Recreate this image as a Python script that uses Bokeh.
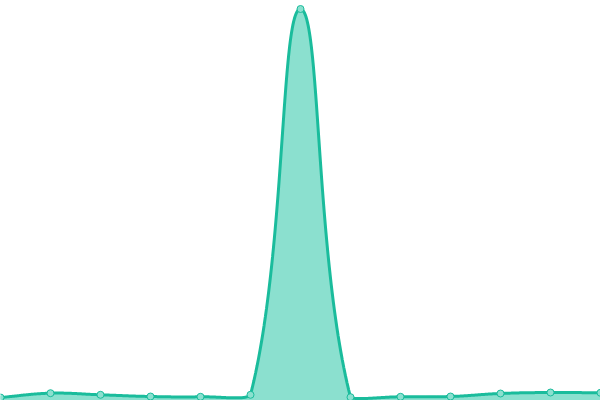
import numpy as np
from bokeh.plotting import figure
from bokeh.models import Range1d
from bokeh.embed import file_html
from bokeh.resources import INLINE

# Data
categories = list(range(13))
values = [3, 7.3, 5.7, 4, 3.7, 5.7, 391.5, 3.3, 3.7, 4, 7, 8, 7.7]

Y_MAX = 400
X_STEP = 50  # reference pixels per category
TENSION = 0.4

W, H = 600, 400

# Spline (Chart.js-style cardinal bezier with control points capped to the area)
P = np.array([[c * X_STEP, v] for c, v in zip(categories, values)], dtype=float)
n = len(P)
cp_prev = np.zeros_like(P)
cp_next = np.zeros_like(P)
xmax = (n - 1) * X_STEP
for i in range(n):
    cur = P[i]
    prv = P[i - 1] if i > 0 else cur
    nxt = P[i + 1] if i < n - 1 else cur
    d01 = np.hypot(*(cur - prv))
    d12 = np.hypot(*(nxt - cur))
    tot = d01 + d12
    s01 = d01 / tot if tot else 0
    s12 = d12 / tot if tot else 0
    fa, fb = TENSION * s01, TENSION * s12
    cp_prev[i] = cur - fa * (nxt - prv)
    cp_next[i] = cur + fb * (nxt - prv)
cp_prev[:, 0] = np.clip(cp_prev[:, 0], 0, xmax)
cp_next[:, 0] = np.clip(cp_next[:, 0], 0, xmax)
cp_prev[:, 1] = np.clip(cp_prev[:, 1], 0, Y_MAX)
cp_next[:, 1] = np.clip(cp_next[:, 1], 0, Y_MAX)

xs, ys = [], []
t = np.linspace(0, 1, 60)
for i in range(n - 1):
    p0, p1, p2, p3 = P[i], cp_next[i], cp_prev[i + 1], P[i + 1]
    b = ((1 - t) ** 3)[:, None] * p0 + (3 * (1 - t) ** 2 * t)[:, None] * p1 \
        + (3 * (1 - t) * t ** 2)[:, None] * p2 + (t ** 3)[:, None] * p3
    xs.extend(b[:, 0] / X_STEP)
    ys.extend(b[:, 1])

p = figure(width=W, height=H, output_backend="svg", toolbar_location=None,
           x_range=Range1d(0, n - 1), y_range=Range1d(0, Y_MAX),
           min_border=0, min_border_left=0, min_border_right=0,
           min_border_top=0, min_border_bottom=0)
p.axis.visible = False
p.grid.visible = False
p.outline_line_color = None
p.background_fill_color = "white"
p.border_fill_color = "white"

p.varea(x=xs, y1=0, y2=ys, fill_color="#8BE0CF", fill_alpha=1)
p.line(x=xs, y=ys, line_color="#1ABC9C", line_width=3)
p.scatter(x=categories, y=values, size=7, marker="circle",
          fill_color="#8BE0CF", line_color="#1ABC9C", line_width=1)

open("out.html", "w").write(file_html(p, INLINE))
